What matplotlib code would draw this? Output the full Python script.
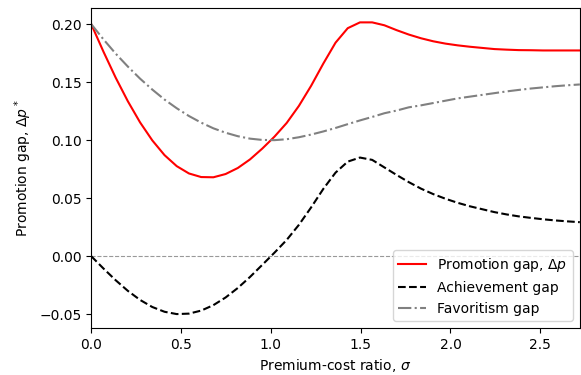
import numpy as np
import matplotlib
matplotlib.use("Agg")
import matplotlib.pyplot as plt

# premium-cost ratio grid (41 points, 0 .. 2.72)
sigma = np.linspace(0, 2.72, 41)

# favoritism gap
favoritism = [0.2000, 0.1869, 0.1746, 0.1634, 0.1530, 0.1436, 0.1350, 0.1275,
              0.1208, 0.1151, 0.1102, 0.1064, 0.1034, 0.1013, 0.1002, 0.1000,
              0.1008, 0.1025, 0.1048, 0.1075, 0.1105, 0.1138, 0.1170, 0.1200,
              0.1232, 0.1255, 0.1283, 0.1300, 0.1320, 0.1340, 0.1360, 0.1375,
              0.1390, 0.1405, 0.1420, 0.1433, 0.1445, 0.1455, 0.1465, 0.1473,
              0.1480]

# achievement gap
achievement = [0.0000, -0.0106, -0.0207, -0.0299, -0.0377, -0.0438, -0.0479, -0.0499,
               -0.0495, -0.0469, -0.0422, -0.0356, -0.0274, -0.0179, -0.0075, 0.0030,
               0.0140, 0.0270, 0.0420, 0.0580, 0.0720, 0.0815, 0.0850, 0.0830,
               0.0765, 0.0700, 0.0638, 0.0582, 0.0535, 0.0495, 0.0460, 0.0430,
               0.0405, 0.0380, 0.0360, 0.0343, 0.0330, 0.0318, 0.0308, 0.0300,
               0.0293]

# promotion gap
promotion = [0.2000, 0.1763, 0.1539, 0.1335, 0.1153, 0.0998, 0.0871, 0.0776,
             0.0713, 0.0682, 0.0680, 0.0708, 0.0760, 0.0834, 0.0927, 0.1030,
             0.1148, 0.1295, 0.1468, 0.1660, 0.1840, 0.1965, 0.2015, 0.2015,
             0.1990, 0.1948, 0.1910, 0.1878, 0.1852, 0.1832, 0.1817, 0.1805,
             0.1795, 0.1785, 0.1780, 0.1776, 0.1775, 0.1773, 0.1773, 0.1773,
             0.1773]

fig, ax = plt.subplots(figsize=(5.81, 3.75), dpi=100)
fig.subplots_adjust(left=0.157, right=0.998, top=0.979, bottom=0.125)

ax.axhline(0, color="grey", linestyle="--", linewidth=0.8, alpha=0.8)
ax.plot(sigma, promotion, color="red", label=r"Promotion gap, $\Delta p$")
ax.plot(sigma, achievement, "k--", label="Achievement gap")
ax.plot(sigma, favoritism, color="grey", linestyle="-.", label="Favoritism gap")

ax.set_xlim(0, 2.72)
ax.set_ylim(-0.062, 0.214)
ax.set_xlabel(r"Premium-cost ratio, $\sigma$")
ax.set_ylabel(r"Promotion gap, $\Delta p^*$")
ax.legend(loc="lower right")

fig.savefig("out.png")
